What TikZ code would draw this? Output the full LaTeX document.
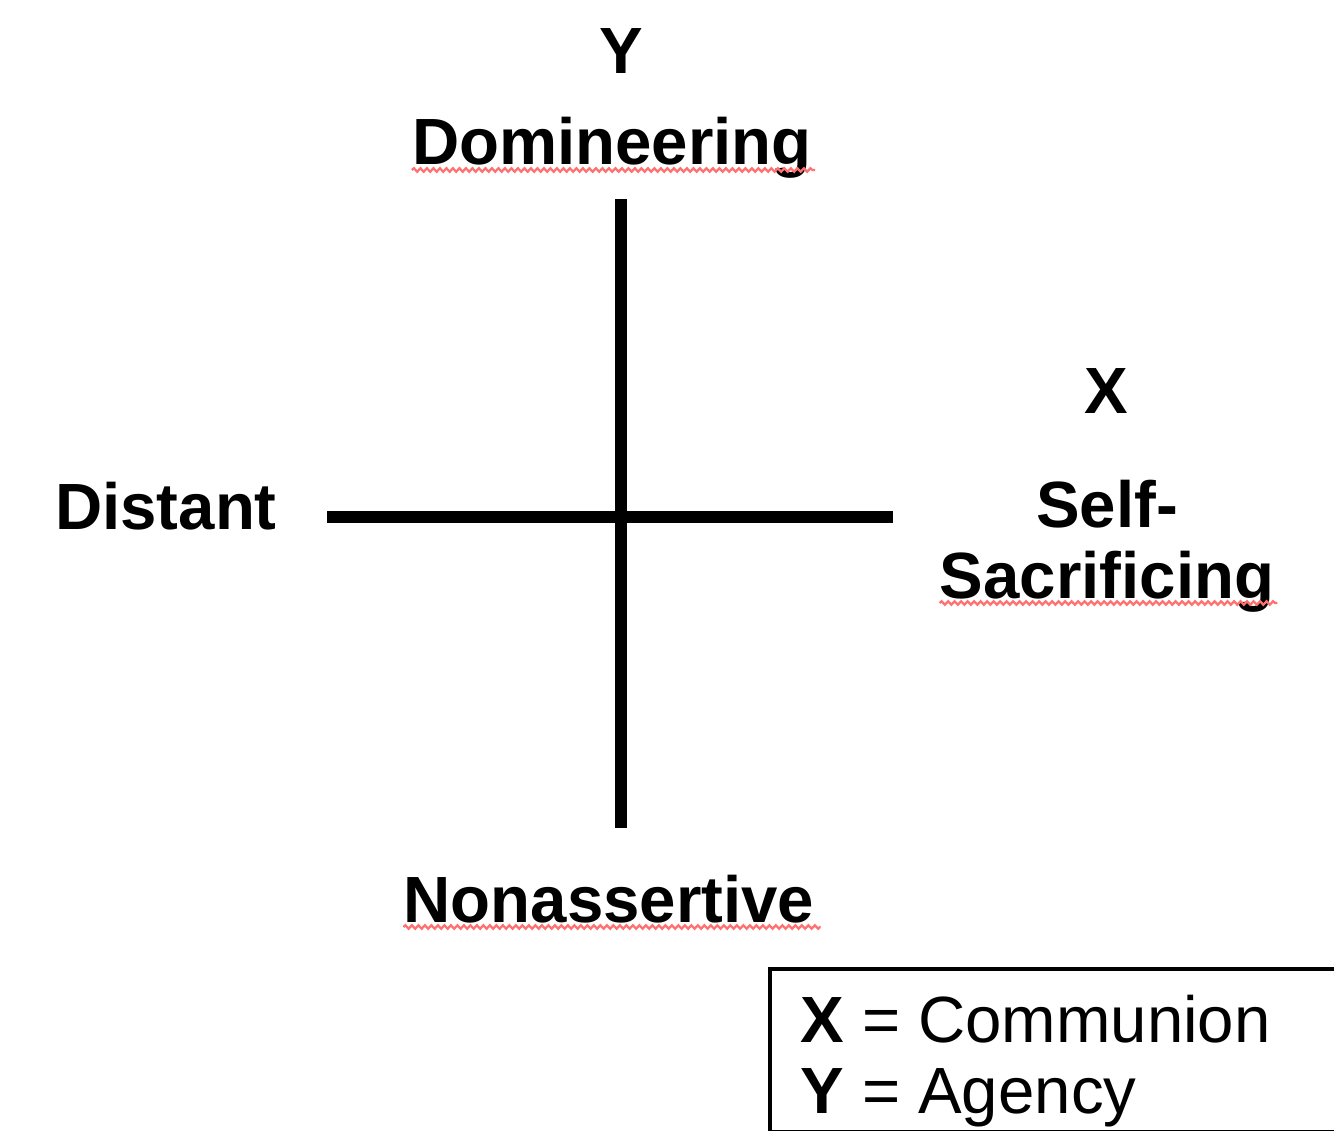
\documentclass[tikz,border=0pt]{standalone}
\usepackage{fontspec}
\setmainfont{Liberation Sans}
\usetikzlibrary{decorations.pathmorphing}
\definecolor{squiggle}{HTML}{FF7070}

\begin{document}
\begin{tikzpicture}[x=0.02cm, y=-0.02cm,
  lbl/.style={font=\fontsize{37.2}{40.4}\selectfont\bfseries, inner sep=0pt, anchor=base},
  key/.style={font=\fontsize{37.2}{40.4}\selectfont, inner sep=0pt, anchor=base west},
  axis/.style={line width=0.24cm, black},
  spell/.style={draw=squiggle, line width=0.045cm, decorate,
                decoration={snake, amplitude=0.035cm, segment length=0.13cm}}]
  \useasboundingbox (0,0) rectangle (1334,1131);
  % axis ends
  \coordinate (top) at (621,199);
  \coordinate (bottom) at (621,828);
  \coordinate (left) at (327,517);
  \coordinate (right) at (893,517);
  \draw[axis] (top) -- (bottom);
  \draw[axis] (left) -- (right);
  % pole labels
  \node[lbl] (ylbl) at (621,74) {Y};
  \node[lbl] (dom) at (612,165) {Domineering};
  \node[lbl] (xlbl) at (1106,414) {X};
  \node[lbl] (self) at (1107,527) {Self-};
  \node[lbl] (sacr) at (1107,598) {Sacrificing};
  \node[lbl] (dist) at (166,529) {Distant};
  \node[lbl] (nona) at (609,922) {Nonassertive};
  \draw[spell] ([yshift=-0.1cm]dom.base west) -- ([xshift=0.06cm,yshift=-0.1cm]dom.base east);
  \draw[spell] ([yshift=-0.1cm]sacr.base west) -- ([xshift=0.06cm,yshift=-0.1cm]sacr.base east);
  \draw[spell] ([yshift=-0.1cm]nona.base west) -- ([xshift=0.12cm,yshift=-0.1cm]nona.base east);
  % legend
  \node[draw, line width=0.07cm, anchor=north west, inner sep=0pt,
        minimum width=12cm, minimum height=3.26cm] (legend) at (768,967) {};
  \node[key] (kx) at (800,1042) {\textbf{X} = Communion};
  \node[key] (ky) at (800,1113) {\textbf{Y} = Agency};
\end{tikzpicture}
\end{document}
